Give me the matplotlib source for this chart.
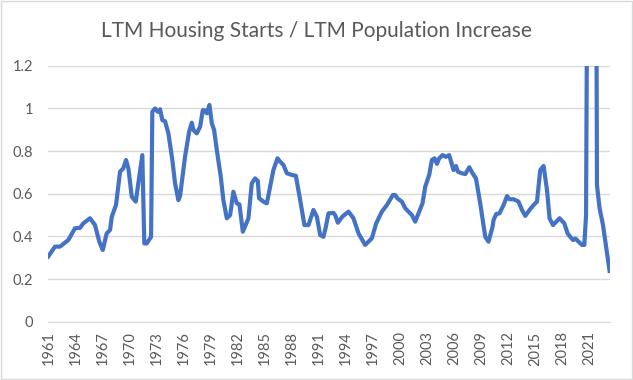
import matplotlib
matplotlib.use("Agg")
import matplotlib.pyplot as plt
from matplotlib.patches import Rectangle
from matplotlib.ticker import FuncFormatter

# LTM housing starts / LTM population increase (year, ratio)
years = [1961.00, 1961.74, 1962.30, 1963.22, 1963.96, 1964.52, 1964.88, 1965.63,
         1966.18, 1966.66, 1967.04, 1967.48, 1967.85, 1968.04, 1968.51, 1968.96,
         1969.32, 1969.62, 1969.88, 1970.26, 1970.70, 1971.43, 1971.65, 1971.92,
         1972.40, 1972.54, 1972.84, 1973.14, 1973.40, 1973.65, 1973.95, 1974.32,
         1974.76, 1975.06, 1975.43, 1975.62, 1976.17, 1976.62, 1976.92, 1977.09,
         1977.47, 1977.84, 1978.14, 1978.39, 1978.58, 1978.87, 1979.14, 1979.39,
         1979.69, 1980.13, 1980.42, 1980.80, 1981.17, 1981.53, 1981.91, 1982.20,
         1982.58, 1983.20, 1983.57, 1983.94, 1984.24, 1984.38, 1984.86, 1985.24,
         1985.61, 1985.97, 1986.42, 1986.72, 1987.08, 1987.46, 1988.01, 1988.46,
         1988.94, 1989.41, 1989.86, 1990.41, 1990.79, 1991.16, 1991.52, 1991.79,
         1992.08, 1992.63, 1992.82, 1993.12, 1993.57, 1993.74, 1994.30, 1994.85,
         1995.41, 1996.15, 1996.89, 1997.37, 1998.00, 1998.56, 1999.22, 1999.48,
         1999.73, 2000.22, 2000.59, 2000.96, 2001.33, 2001.70, 2002.07, 2002.51,
         2002.81, 2003.25, 2003.55, 2003.84, 2004.11, 2004.36, 2004.73, 2005.11,
         2005.47, 2005.95, 2006.22, 2006.44, 2006.88, 2007.25, 2007.70, 2008.06,
         2008.44, 2008.91, 2009.47, 2009.83, 2010.28, 2010.39, 2010.69, 2011.05,
         2011.50, 2011.88, 2012.17, 2012.61, 2013.16, 2013.54, 2013.91, 2014.38,
         2014.83, 2015.21, 2015.57, 2015.94, 2016.32, 2016.60, 2016.98, 2017.35,
         2017.71, 2018.24, 2018.60, 2018.90, 2019.20, 2019.46, 2019.82, 2020.20,
         2020.46, 2020.65, 2020.93, 2021.68, 2021.86, 2022.15, 2022.53, 2023.26]
ratio = [0.306, 0.352, 0.352, 0.383, 0.438, 0.440, 0.461, 0.485,
         0.453, 0.375, 0.336, 0.414, 0.430, 0.492, 0.547, 0.703,
         0.719, 0.758, 0.719, 0.586, 0.563, 0.781, 0.367, 0.367,
         0.398, 0.984, 1.000, 0.984, 0.996, 0.945, 0.940, 0.883,
         0.758, 0.649, 0.570, 0.590, 0.774, 0.891, 0.933, 0.899,
         0.883, 0.914, 0.992, 0.990, 0.977, 1.016, 0.930, 0.899,
         0.805, 0.680, 0.570, 0.485, 0.500, 0.609, 0.555, 0.550,
         0.422, 0.485, 0.649, 0.672, 0.660, 0.579, 0.563, 0.555,
         0.633, 0.711, 0.766, 0.750, 0.735, 0.696, 0.688, 0.684,
         0.570, 0.453, 0.453, 0.524, 0.492, 0.406, 0.398, 0.445,
         0.508, 0.510, 0.500, 0.464, 0.490, 0.497, 0.516, 0.485,
         0.414, 0.360, 0.391, 0.461, 0.516, 0.547, 0.594, 0.594,
         0.578, 0.563, 0.532, 0.516, 0.500, 0.469, 0.508, 0.555,
         0.633, 0.688, 0.758, 0.766, 0.740, 0.766, 0.781, 0.773,
         0.781, 0.711, 0.730, 0.703, 0.696, 0.692, 0.724, 0.696,
         0.672, 0.555, 0.398, 0.375, 0.445, 0.477, 0.505, 0.508,
         0.547, 0.589, 0.574, 0.574, 0.563, 0.524, 0.496, 0.524,
         0.547, 0.563, 0.711, 0.730, 0.617, 0.485, 0.453, 0.469,
         0.485, 0.461, 0.414, 0.398, 0.383, 0.390, 0.375, 0.360,
         0.360, 0.500, 3.000, 3.200, 0.641, 0.532, 0.453, 0.238]

tick_years = list(range(1961, 2022, 3))

grey_text = "#595959"
grid_col = "#D9D9D9"

plt.rcParams['font.family'] = ['Lato', 'DejaVu Sans']

fig = plt.figure(figsize=(6.33, 3.8), dpi=100)
ax = fig.add_axes([0.0763, 0.1534, 0.8867, 0.6736])

ax.plot(years, ratio, color="#4472C4", linewidth=3.0, solid_joinstyle="round")

ax.set_xlim(years[0], years[-1])
ax.set_ylim(0, 1.2)
ax.set_yticks([0, 0.2, 0.4, 0.6, 0.8, 1.0, 1.2])
ax.yaxis.set_major_formatter(FuncFormatter(lambda v, p: "%g" % round(v, 1)))
ax.set_xticks(tick_years)
ax.set_xticklabels([str(y) for y in tick_years], rotation=90)

ax.grid(axis="y", color=grid_col, linewidth=1)
ax.set_axisbelow(True)
for s in ["top", "right", "left"]:
    ax.spines[s].set_visible(False)
ax.spines["bottom"].set_color(grid_col)
ax.tick_params(axis="both", length=0, colors=grey_text, labelsize=10.5)
ax.tick_params(axis="y", pad=11)
ax.tick_params(axis="x", pad=7)

fig.suptitle("LTM Housing Starts / LTM Population Increase", y=0.945,
             fontsize=15, color=grey_text)

fig.patches.append(Rectangle((0.002, 0.003), 0.996, 0.994, transform=fig.transFigure,
                             fill=False, edgecolor=grid_col, linewidth=1))

fig.savefig("out.png", dpi=100)
